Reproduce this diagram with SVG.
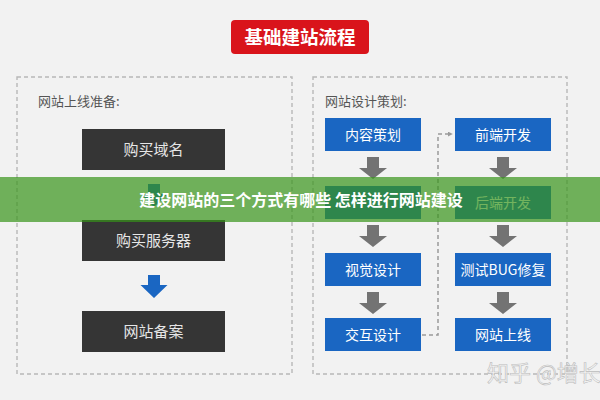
<svg xmlns="http://www.w3.org/2000/svg" xmlns:xlink="http://www.w3.org/1999/xlink" width="600" height="400" viewBox="0 0 600 400">
<style>
.cjk{font-family:"Noto Sans CJK SC","Noto Sans",sans-serif}
.panel{fill:none;stroke:#b8b8b8;stroke-width:1.4;stroke-dasharray:4 3}
.plabel{font-size:13px;fill:#555}
.dark{fill:#353535}
.dtext{font-size:15px;fill:#e6e6e6;text-anchor:middle}
.blue{fill:#1a66c2}
.btext{font-size:14px;fill:#fff;text-anchor:middle}
.garrow{fill:#737373}
.barrow{fill:#1a66c2}
.conn{fill:none;stroke:#9a9a9a;stroke-width:1.5;stroke-dasharray:4 3}
</style>
<defs>
<path id="ga" d="M-6,0 H6 V11 H14 L0,22 L-14,11 H-6 Z"/>
<path id="ba" d="M-6,0 H6 V10 H13.5 L0,23 L-13.5,10 H-6 Z"/>
<marker id="ah" viewBox="0 0 6 6" refX="5" refY="3" markerWidth="5" markerHeight="5" orient="auto" markerUnits="userSpaceOnUse">
<path d="M0,0 L6,3 L0,6 Z" fill="#9a9a9a"/>
</marker>
</defs>
<rect width="600" height="400" fill="#f2f2f2"/>

<g id="title">
<rect x="231" y="20" width="138" height="34" rx="4" fill="#d9141b"/>
<text class="cjk" x="300" y="43.5" font-size="18.5" font-weight="bold" fill="#fff" text-anchor="middle">基础建站流程</text>
</g>

<g id="panel-left">
<rect class="panel" x="17" y="77" width="275" height="297"/>
<text class="cjk plabel" x="38" y="105.5">网站上线准备:</text>
</g>
<g id="panel-right">
<rect class="panel" x="313" y="77" width="254" height="297"/>
<text class="cjk plabel" x="325" y="105.5">网站设计策划:</text>
</g>

<g id="buy-domain"><rect class="dark" x="82" y="129" width="143" height="41"/><text class="cjk dtext" x="153.5" y="155">购买域名</text></g>
<g id="buy-server"><rect class="dark" x="82" y="220" width="143" height="41"/><text class="cjk dtext" x="153.5" y="246">购买服务器</text></g>
<g id="icp"><rect class="dark" x="82" y="311" width="143" height="41"/><text class="cjk dtext" x="153.5" y="337">网站备案</text></g>

<g id="content-plan"><rect class="blue" x="325" y="118" width="96" height="33"/><text class="cjk btext" x="373" y="139.5">内容策划</text></g>
<g id="hidden-step"><rect class="blue" x="325" y="186" width="96" height="33"/></g>
<g id="visual"><rect class="blue" x="325" y="253" width="96" height="33"/><text class="cjk btext" x="373" y="274.5">视觉设计</text></g>
<g id="interaction"><rect class="blue" x="325" y="318" width="96" height="33"/><text class="cjk btext" x="373" y="339.5">交互设计</text></g>

<g id="frontend"><rect class="blue" x="455" y="118" width="96" height="33"/><text class="cjk btext" x="503" y="139.5">前端开发</text></g>
<g id="backend"><rect class="blue" x="455" y="186" width="96" height="33"/><text class="cjk btext" x="503" y="207.5">后端开发</text></g>
<g id="testing"><rect class="blue" x="455" y="253" width="96" height="33"/><text class="cjk btext" x="503" y="274.5">测试BUG修复</text></g>
<g id="launch"><rect class="blue" x="455" y="318" width="96" height="33"/><text class="cjk btext" x="503" y="339.5">网站上线</text></g>

<g id="connectors">
<use xlink:href="#ba" class="barrow" x="154" y="184"/>
<use xlink:href="#ba" class="barrow" x="154" y="275"/>
<use xlink:href="#ga" class="garrow" x="373" y="157"/>
<use xlink:href="#ga" class="garrow" x="373" y="225"/>
<use xlink:href="#ga" class="garrow" x="373" y="292"/>
<use xlink:href="#ga" class="garrow" x="503" y="157"/>
<use xlink:href="#ga" class="garrow" x="503" y="225"/>
<use xlink:href="#ga" class="garrow" x="503" y="292"/>
<path class="conn" d="M422,335 H438 V134 H452" marker-end="url(#ah)"/>
</g>

<g id="banner">
<rect x="0" y="177" width="600" height="45" fill="rgb(55,148,25)" fill-opacity="0.7"/>
<text class="cjk" x="301" y="206" font-size="16" font-weight="bold" fill="#fff" text-anchor="middle">建设网站的三个方式有哪些 怎样进行网站建设</text>
</g>

<g id="watermark">
<text class="cjk" x="487" y="381" font-size="22" fill="#f4f4f4" stroke="#bcbcbc" stroke-width="0.6">知乎 @增长</text>
</g>
</svg>
